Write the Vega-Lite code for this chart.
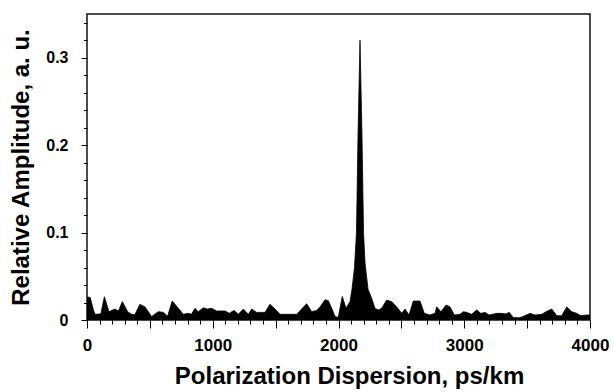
{
  "$schema": "https://vega.github.io/schema/vega-lite/v6.json",
  "autosize": "none",
  "width": 503,
  "height": 306,
  "padding": {"left": 87, "top": 14, "right": 23, "bottom": 72},
  "background": "white",
  "config": {
    "view": {"stroke": "#111", "strokeWidth": 1.5},
    "font": "Liberation Sans",
    "axis": {
      "labelFont": "Liberation Sans",
      "labelFontWeight": "bold",
      "labelColor": "#000",
      "titleFont": "Liberation Sans",
      "titleFontWeight": "bold",
      "titleFontSize": 24,
      "titleColor": "#000",
      "tickColor": "#000",
      "domain": false,
      "grid": false
    }
  },
  "data": {
    "values": [
      {"x": 0, "y": 0.026}, {"x": 25, "y": 0.026}, {"x": 50, "y": 0.012}, {"x": 64, "y": 0.0065},
      {"x": 110, "y": 0.007}, {"x": 138, "y": 0.0266}, {"x": 175, "y": 0.0095}, {"x": 222, "y": 0.0125},
      {"x": 250, "y": 0.0103}, {"x": 281, "y": 0.021}, {"x": 323, "y": 0.0095}, {"x": 355, "y": 0.0065},
      {"x": 380, "y": 0.006}, {"x": 421, "y": 0.0179}, {"x": 461, "y": 0.015}, {"x": 514, "y": 0.004},
      {"x": 567, "y": 0.0095}, {"x": 610, "y": 0.0087}, {"x": 640, "y": 0.004}, {"x": 678, "y": 0.0217},
      {"x": 726, "y": 0.0133}, {"x": 766, "y": 0.0065}, {"x": 806, "y": 0.0076}, {"x": 830, "y": 0.0065},
      {"x": 859, "y": 0.0133}, {"x": 885, "y": 0.0095}, {"x": 925, "y": 0.014}, {"x": 955, "y": 0.0125},
      {"x": 991, "y": 0.0133}, {"x": 1031, "y": 0.0103}, {"x": 1097, "y": 0.0103}, {"x": 1132, "y": 0.0076},
      {"x": 1169, "y": 0.011}, {"x": 1203, "y": 0.0065}, {"x": 1243, "y": 0.0125}, {"x": 1283, "y": 0.0065},
      {"x": 1310, "y": 0.0125}, {"x": 1349, "y": 0.0087}, {"x": 1415, "y": 0.0087}, {"x": 1455, "y": 0.018},
      {"x": 1495, "y": 0.0125}, {"x": 1535, "y": 0.0065}, {"x": 1614, "y": 0.0065}, {"x": 1668, "y": 0.0065},
      {"x": 1707, "y": 0.0125}, {"x": 1747, "y": 0.0186}, {"x": 1787, "y": 0.0095}, {"x": 1826, "y": 0.011},
      {"x": 1853, "y": 0.015}, {"x": 1893, "y": 0.0232}, {"x": 1919, "y": 0.0221}, {"x": 1950, "y": 0.012},
      {"x": 1972, "y": 0.004}, {"x": 1998, "y": 0.003}, {"x": 2030, "y": 0.027}, {"x": 2060, "y": 0.0133},
      {"x": 2091, "y": 0.021}, {"x": 2107, "y": 0.035}, {"x": 2127, "y": 0.06}, {"x": 2143, "y": 0.1},
      {"x": 2155, "y": 0.21}, {"x": 2171, "y": 0.32}, {"x": 2187, "y": 0.21}, {"x": 2199, "y": 0.1},
      {"x": 2211, "y": 0.065}, {"x": 2235, "y": 0.035}, {"x": 2264, "y": 0.0247}, {"x": 2290, "y": 0.0133},
      {"x": 2317, "y": 0.0114}, {"x": 2343, "y": 0.0133}, {"x": 2383, "y": 0.0228}, {"x": 2423, "y": 0.0209},
      {"x": 2463, "y": 0.015}, {"x": 2503, "y": 0.0076}, {"x": 2529, "y": 0.0125}, {"x": 2561, "y": 0.0057},
      {"x": 2595, "y": 0.0217}, {"x": 2648, "y": 0.0217}, {"x": 2682, "y": 0.0076}, {"x": 2728, "y": 0.0057},
      {"x": 2767, "y": 0.0076}, {"x": 2781, "y": 0.015}, {"x": 2815, "y": 0.0095}, {"x": 2855, "y": 0.0171},
      {"x": 2887, "y": 0.015}, {"x": 2921, "y": 0.0057}, {"x": 2966, "y": 0.0065}, {"x": 2993, "y": 0.0095},
      {"x": 3020, "y": 0.0087}, {"x": 3059, "y": 0.0065}, {"x": 3099, "y": 0.0114}, {"x": 3131, "y": 0.0076},
      {"x": 3165, "y": 0.0087}, {"x": 3199, "y": 0.0057}, {"x": 3258, "y": 0.0076}, {"x": 3298, "y": 0.0076},
      {"x": 3330, "y": 0.007}, {"x": 3358, "y": 0.0087}, {"x": 3390, "y": 0.0027}, {"x": 3443, "y": 0.0027},
      {"x": 3483, "y": 0.0049}, {"x": 3523, "y": 0.0076}, {"x": 3563, "y": 0.0057}, {"x": 3616, "y": 0.0065},
      {"x": 3661, "y": 0.0103}, {"x": 3696, "y": 0.0125}, {"x": 3736, "y": 0.0049}, {"x": 3775, "y": 0.0049},
      {"x": 3815, "y": 0.015}, {"x": 3855, "y": 0.0095}, {"x": 3894, "y": 0.0076}, {"x": 3926, "y": 0.0049},
      {"x": 3974, "y": 0.0057}, {"x": 4000, "y": 0.0057}
    ]
  },
  "mark": {"type": "area", "color": "#000", "stroke": "#000", "strokeWidth": 0.8, "clip": true},
  "encoding": {
    "x": {
      "field": "x",
      "type": "quantitative",
      "scale": {"domain": [0, 4000], "nice": false, "zero": false},
      "axis": {
        "title": "Polarization Dispersion, ps/km",
        "values": [0,100,200,300,400,500,600,700,800,900,1000,1100,1200,1300,1400,1500,1600,1700,1800,1900,2000,2100,2200,2300,2400,2500,2600,2700,2800,2900,3000,3100,3200,3300,3400,3500,3600,3700,3800,3900,4000],
        "labelExpr": "datum.value % 1000 === 0 ? datum.label : ''",
        "labelOverlap": false,
        "labelFlush": false,
        "labelFontSize": 17,
        "tickSize": {"condition": {"test": "datum.value % 500 === 0", "value": 8}, "value": 4},
        "tickWidth": 1,
        "labelPadding": 9,
        "titlePadding": 11,
        "titleX": 262,
        "format": "d"
      }
    },
    "y": {
      "field": "y",
      "type": "quantitative",
      "scale": {"domain": [0, 0.35], "nice": false},
      "axis": {
        "title": "Relative Amplitude, a. u.",
        "values": [0,0.02,0.04,0.06,0.08,0.1,0.12,0.14,0.16,0.18,0.2,0.22,0.24,0.26,0.28,0.3,0.32,0.34],
        "labelExpr": "abs(datum.value*10 - round(datum.value*10)) < 1e-6 ? (datum.value == 0 ? '0' : format(datum.value, '.1f')) : ''",
        "labelOverlap": false,
        "labelFlush": false,
        "labelFontSize": 16,
        "tickSize": {"condition": {"test": "abs(datum.value*10 - round(datum.value*10)) < 1e-6", "value": 6}, "value": 3.5},
        "tickWidth": 1,
        "labelPadding": 13,
        "titlePadding": 12
      }
    }
  }
}
